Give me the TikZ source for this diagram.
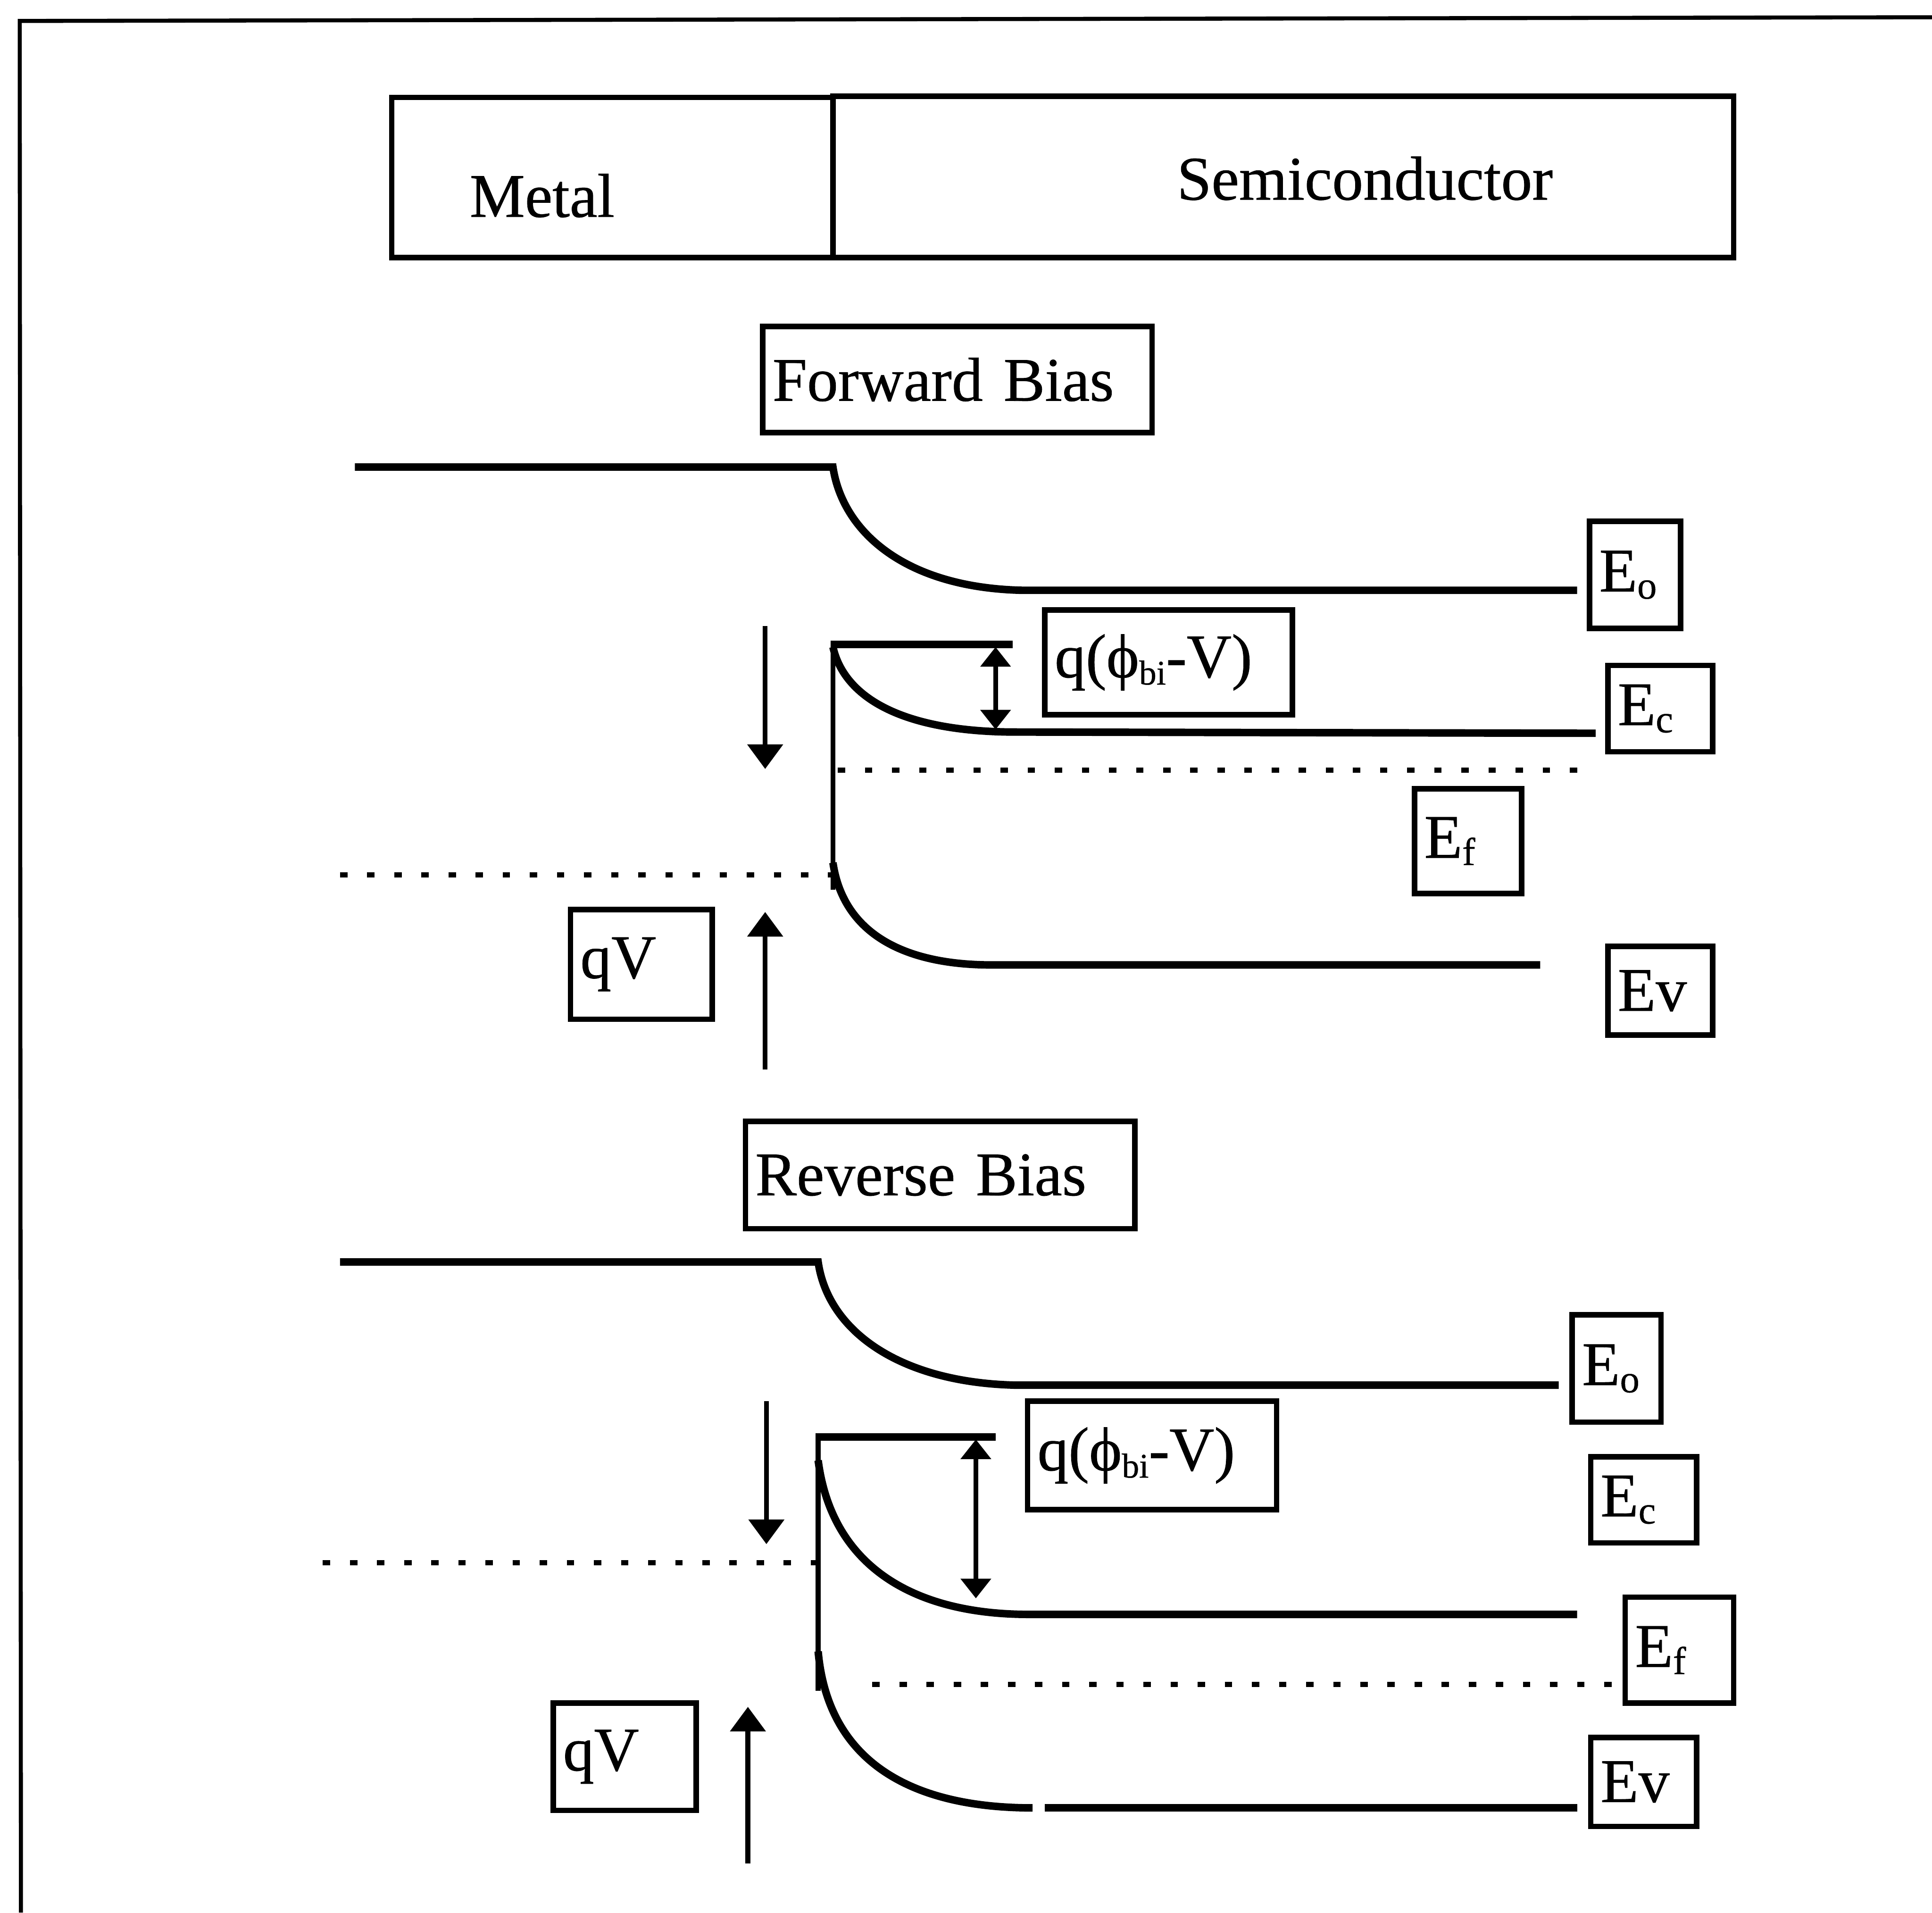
\documentclass[tikz,border=0pt]{standalone}
\usepackage{fontspec}
\setmainfont{Liberation Serif}[FakeBold=0.6]
\usetikzlibrary{arrows.meta}
% lowered, smaller index text
\newcommand\lowtext[2][27]{\raisebox{-5pt}{\fontsize{#1}{#1}\selectfont #2}}
\begin{document}
\begin{tikzpicture}[x=0.03cm,y=-0.03cm,
  band/.style={line width=5.2pt},
  thinline/.style={line width=3.4pt},
  fermi/.style={line width=3.6pt, dash pattern=on 0.18cm off 0.48cm},
  tag/.style={draw, line width=3.8pt, inner xsep=0.24cm, inner ysep=0pt,
    align=left, font=\fontsize{43}{50}\selectfont},
  frame/.style={draw, line width=3.8pt, inner sep=0pt},
  arr/.style={thinline, -{Triangle[length=0.6cm,width=0.85cm]}},
  darr/.style={thinline, {Triangle[length=0.48cm,width=0.72cm]}-{Triangle[length=0.48cm,width=0.72cm]}},
  txt/.style={font=\fontsize{43}{50}\selectfont, inner sep=0pt, anchor=base west}
]
\useasboundingbox (0,0) rectangle (1568,1552);

% outer frame
\draw[line width=2.8pt] (1568,14) -- (16,17) -- (17,1552);

% metal / semiconductor header
\node[frame, minimum width=10.74cm, minimum height=3.9cm] (metal) at (497,144) {};
\node[frame, minimum width=21.93cm, minimum height=3.93cm] (semi) at (1041.5,143.5) {};
\node[txt] (metaltxt) at (381,176) {Metal};
\node[txt] (semitxt) at (955,162) {Semiconductor};

% ---------------- forward bias ----------------
\node[tag, text width=9.0cm, minimum height=2.58cm] (fbias) at (777,308) {Forward Bias};

% vacuum level
\draw[band] (288,379) -- (676,379) .. controls (684,432) and (735,477) .. (830,479) -- (1280,479);
% barrier top and interface
\draw[band] (822,523) -- (674,523);
\draw[thinline] (676,523) -- (676,722);
% conduction band
\draw[band] (676,525) .. controls (685,565) and (730,593) .. (820,594) -- (1295,595);
\draw[darr] (808,525) -- (808,592);
% Fermi levels
\draw[fermi] (680,625) -- (1295,625);
\draw[fermi] (276,710) -- (676,710);
% valence band
\draw[band] (676,700) .. controls (684,755) and (730,783) .. (805,783) -- (1250,783);
% applied bias arrows
\draw[arr] (621,508) -- (621,624);
\draw[arr] (621,868) -- (621,740);

\node[tag, text width=1.74cm, minimum height=2.61cm] (feo) at (1327,466.5) {E\lowtext{o}};
\node[tag, text width=5.55cm, minimum height=2.55cm] (fqp) at (948.5,537.5) {q(ϕ\lowtext[24]{bi}-V)};
\node[tag, text width=2.07cm, minimum height=2.1cm] (fec) at (1347.5,575) {E\lowtext{c}};
\node[tag, text width=2.13cm, minimum height=2.55cm] (fef) at (1191.5,682.5) {E\lowtext{f}};
\node[tag, text width=2.07cm, minimum height=2.16cm] (fev) at (1347.5,804) {Ev};
\node[tag, text width=2.97cm, minimum height=2.67cm] (fqv) at (520.5,782.5) {qV};

% ---------------- reverse bias ----------------
\node[tag, text width=9.0cm, minimum height=2.61cm] (rbias) at (763,953.5) {Reverse Bias};

% vacuum level
\draw[band] (276,1024) -- (664,1024) .. controls (672,1080) and (730,1122) .. (825,1124) -- (1265,1124);
% barrier top and interface
\draw[band] (808,1166) -- (662,1166);
\draw[thinline] (664,1166) -- (664,1372);
% conduction band
\draw[band] (664,1185) .. controls (675,1270) and (740,1310) .. (835,1310) -- (1280,1310);
\draw[darr] (792,1168) -- (792,1297);
% Fermi levels
\draw[fermi] (262,1268) -- (664,1268);
\draw[fermi] (708,1367) -- (1319,1367);
% valence band
\draw[band] (664,1340) .. controls (672,1430) and (740,1467) .. (838,1467);
\draw[band] (848,1467) -- (1280,1467);
% applied bias arrows
\draw[arr] (622,1137) -- (622,1253);
\draw[arr] (607,1512) -- (607,1385);

\node[tag, text width=1.68cm, minimum height=2.61cm] (reo) at (1312,1110.5) {E\lowtext{o}};
\node[tag, text width=5.58cm, minimum height=2.64cm] (rqp) at (935,1181) {q(ϕ\lowtext[24]{bi}-V)};
\node[tag, text width=2.1cm, minimum height=2.1cm] (rec) at (1334,1217) {E\lowtext{c}};
\node[tag, text width=2.16cm, minimum height=2.58cm] (ref) at (1363,1339) {E\lowtext{f}};
\node[tag, text width=2.1cm, minimum height=2.16cm] (rev) at (1334,1446) {Ev};
\node[tag, text width=3.0cm, minimum height=2.61cm] (rqv) at (507,1425.5) {qV};
\end{tikzpicture}
\end{document}
